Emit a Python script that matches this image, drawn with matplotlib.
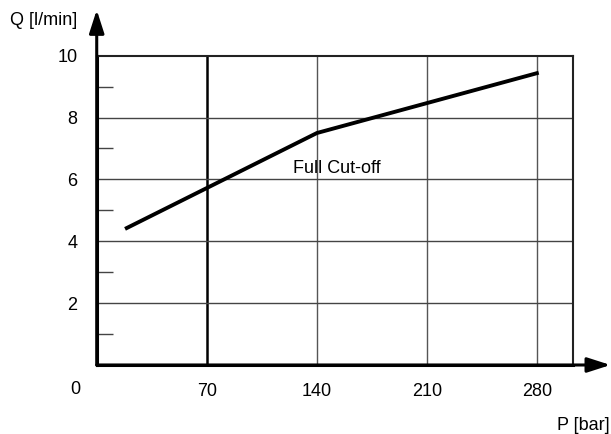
import matplotlib.pyplot as plt

plt.rcParams['font.family'] = ['Liberation Sans', 'DejaVu Sans']

# curve: pressure [bar] vs flow [l/min]
pressure = [18, 140, 281]
flow = [4.4, 7.5, 9.45]

x_ticks = [70, 140, 210, 280]
y_ticks = [2, 4, 6, 8, 10]
y_minor = [1, 3, 5, 7, 9]

fig = plt.figure(figsize=(6.11, 4.34), dpi=100)
ax = fig.add_axes([0.1583, 0.159, 0.78, 0.7127])
ax.set_xlim(0, 303)
ax.set_ylim(0, 10)

# grid
for x in x_ticks:
    if x == 70:
        ax.axvline(x, color='black', lw=1.8, zorder=1)
    else:
        ax.axvline(x, color='#555555', lw=1.0, zorder=1)
for y in y_ticks[:-1]:
    ax.axhline(y, color='#444444', lw=1.0, zorder=1)

ax.plot(pressure, flow, color='black', lw=2.8, solid_capstyle='butt', zorder=3)
ax.text(125, 6.35, 'Full Cut-off', fontsize=13, va='center', ha='left')

for s in ['top', 'right']:
    ax.spines[s].set_linewidth(1.5)
    ax.spines[s].set_color('#222222')
for s in ['left', 'bottom']:
    ax.spines[s].set_linewidth(2.2)
    ax.spines[s].set_color('black')

ax.set_xticks(x_ticks)
ax.set_xticklabels([str(v) for v in x_ticks])
ax.set_yticks(y_ticks)
ax.set_yticklabels([str(v) for v in y_ticks])
ax.set_yticks(y_minor, minor=True)
ax.tick_params(axis='both', which='major', length=0, labelsize=13)
ax.tick_params(axis='x', pad=13)
ax.tick_params(axis='y', pad=14)
ax.tick_params(axis='y', which='minor', direction='in', length=11.5, width=1.0, color='#444444')
ax.tick_params(axis='x', which='minor', length=0)

# origin label
ax.text(-0.045, -0.078, '0', transform=ax.transAxes, fontsize=13, ha='center', va='center')

# axis arrows
ax.annotate('', xy=(1.078, 0), xytext=(0, 0), xycoords='axes fraction',
            arrowprops=dict(arrowstyle='-|>,head_length=1.4,head_width=0.45', color='black', lw=2.2,
                            shrinkA=0, shrinkB=0), annotation_clip=False)
ax.annotate('', xy=(0, 1.148), xytext=(0, 0), xycoords='axes fraction',
            arrowprops=dict(arrowstyle='-|>,head_length=1.4,head_width=0.45', color='black', lw=2.2,
                            shrinkA=0, shrinkB=0), annotation_clip=False)

fig.text(0.016, 0.953, 'Q [l/min]', fontsize=13, ha='left', va='center')
fig.text(0.998, 0.02, 'P [bar]', fontsize=13, ha='right', va='center')

plt.savefig('out.png', dpi=100)
plt.close()
